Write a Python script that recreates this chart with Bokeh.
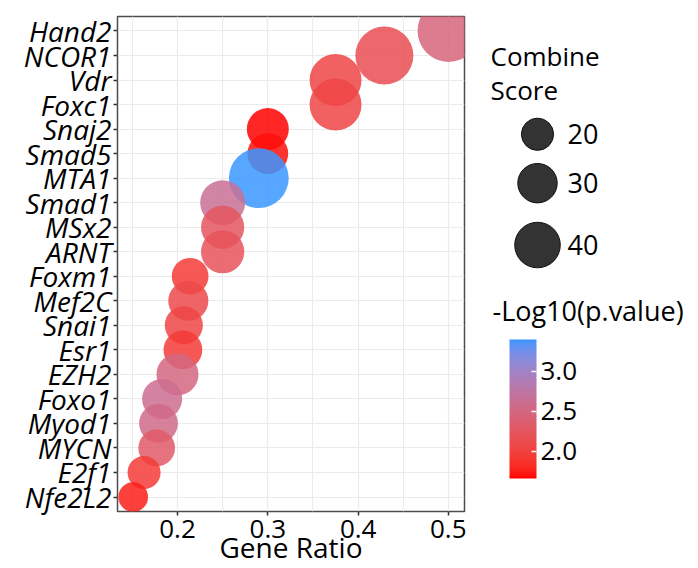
import numpy as np
from bokeh.plotting import figure
from bokeh.models import (ColumnDataSource, FactorRange, Range1d, LinearColorMapper,
                          ColorBar, FixedTicker, PrintfTickFormatter)
from bokeh.layouts import row
from bokeh.core.properties import value
from bokeh.embed import file_html
from bokeh.resources import INLINE

# ---------------- data (top row of the chart first) ----------------
genes = ["Hand2", "NCOR1", "Vdr", "Foxc1", "Snaj2", "Smad5", "MTA1", "Smad1", "MSx2", "ARNT",
         "Foxm1", "Mef2C", "Snai1", "Esr1", "EZH2", "Foxo1", "Myod1", "MYCN", "E2f1", "Nfe2L2"]
gene_ratio = [0.500, 0.429, 0.375, 0.375, 0.300, 0.300, 0.290, 0.250, 0.250, 0.250,
              0.214, 0.212, 0.207, 0.206, 0.200, 0.183, 0.179, 0.177, 0.163, 0.151]
combine_score = [74, 65, 52, 52, 34, 32, 69, 39, 36, 36,
                 26, 31, 28, 29, 34, 31, 29, 26, 21, 17]
neg_log10_p = [2.45, 2.15, 2.05, 2.05, 1.66, 1.70, 3.40, 2.65, 2.25, 2.20,
               1.95, 2.10, 2.05, 1.95, 2.50, 2.60, 2.55, 2.30, 1.95, 1.75]
size_breaks = [20, 30, 40]
color_ticks = [2.0, 2.5, 3.0]
x_ticks = [0.2, 0.3, 0.4, 0.5]
x_minor = [0.15, 0.25, 0.35, 0.45]

FONT = "Open Sans"
LOW_COLOR = "#FF0000"
HIGH_COLOR = "#3A96FF"
SIZE_K = 7.2  # diameter (px) per sqrt(score): area proportional to score


# ---------------- colour ramp in CIELAB (like ggplot gradient) ----------------
def _hex_to_rgb(h):
    h = h.lstrip("#")
    return np.array([int(h[i:i + 2], 16) for i in (0, 2, 4)], dtype=float) / 255.0


def _rgb_to_lab(rgb):
    lin = np.where(rgb <= 0.04045, rgb / 12.92, ((rgb + 0.055) / 1.055) ** 2.4)
    m = np.array([[0.4124564, 0.3575761, 0.1804375],
                  [0.2126729, 0.7151522, 0.0721750],
                  [0.0193339, 0.1191920, 0.9503041]])
    xyz = m @ lin / np.array([0.95047, 1.0, 1.08883])
    f = np.where(xyz > 216 / 24389, np.cbrt(xyz), (24389 / 27 * xyz + 16) / 116)
    return np.array([116 * f[1] - 16, 500 * (f[0] - f[1]), 200 * (f[1] - f[2])])


def _lab_to_hex(lab):
    fy = (lab[0] + 16) / 116
    fx = fy + lab[1] / 500
    fz = fy - lab[2] / 200
    f = np.array([fx, fy, fz])
    xyz = np.where(f ** 3 > 216 / 24389, f ** 3, (116 * f - 16) / (24389 / 27))
    xyz = xyz * np.array([0.95047, 1.0, 1.08883])
    mi = np.array([[3.2404542, -1.5371385, -0.4985314],
                   [-0.9692660, 1.8760108, 0.0415560],
                   [0.0556434, -0.2040259, 1.0572252]])
    lin = np.clip(mi @ xyz, 0, 1)
    rgb = np.where(lin <= 0.0031308, 12.92 * lin, 1.055 * lin ** (1 / 2.4) - 0.055)
    r, g, b = (np.clip(rgb, 0, 1) * 255).round().astype(int)
    return "#%02x%02x%02x" % (r, g, b)


lab_lo, lab_hi = _rgb_to_lab(_hex_to_rgb(LOW_COLOR)), _rgb_to_lab(_hex_to_rgb(HIGH_COLOR))
palette = [_lab_to_hex(lab_lo + t * (lab_hi - lab_lo)) for t in np.linspace(0, 1, 256)]

mapper = LinearColorMapper(palette=palette, low=min(neg_log10_p), high=max(neg_log10_p))

src = ColumnDataSource(dict(
    gene=genes, ratio=gene_ratio, score=combine_score, nlp=neg_log10_p,
    size=[SIZE_K * np.sqrt(s) for s in combine_score],
))

FRAME_TOP, FRAME_BOTTOM = 16, 512

# ---------------- main panel ----------------
x_lo, x_hi = 0.1336, 0.5177
p = figure(width=466, height=568,
           x_range=Range1d(x_lo, x_hi),
           y_range=FactorRange(factors=list(reversed(genes)), range_padding=0.009,
                               range_padding_units="percent"),
           min_border_left=117, min_border_right=2, min_border_top=FRAME_TOP,
           min_border_bottom=568 - FRAME_BOTTOM,
           output_backend="svg", toolbar_location=None)

p.scatter("ratio", "gene", size="size", source=src,
          fill_color={"field": "nlp", "transform": mapper}, fill_alpha=0.85,
          line_color=None)

p.background_fill_color = "white"
p.border_fill_color = "white"
p.outline_line_color = "#4D4D4D"
p.outline_line_width = 1.5

p.xaxis.ticker = FixedTicker(ticks=x_ticks, minor_ticks=x_minor)
p.xaxis.axis_label = "Gene Ratio"
p.xaxis.axis_label_text_font = FONT
p.xaxis.axis_label_text_font_size = "28px"
p.xaxis.axis_label_text_font_style = "normal"
p.xaxis.axis_label_text_color = "black"
p.xaxis.axis_label_standoff = -13
p.xaxis.major_label_text_font = FONT
p.xaxis.major_label_text_font_size = "26px"
p.xaxis.major_label_text_color = "black"
p.xaxis.major_label_standoff = 4
p.xaxis.minor_tick_line_color = None

p.yaxis.major_label_text_font = FONT
p.yaxis.major_label_text_font_size = "28px"
p.yaxis.major_label_text_font_style = "italic"
p.yaxis.major_label_text_color = "black"
p.yaxis.major_label_standoff = 2

for ax in (p.xaxis, p.yaxis):
    ax.axis_line_color = None
    ax.major_tick_line_color = "#333333"
    ax.major_tick_line_width = 1.5
    ax.major_tick_out = 4
    ax.major_tick_in = 0

p.xgrid.grid_line_color = "#EBEBEB"
p.xgrid.grid_line_width = 1.2
p.xgrid.minor_grid_line_color = "#EBEBEB"
p.xgrid.minor_grid_line_width = 1.0
p.ygrid.grid_line_color = "#EBEBEB"
p.ygrid.grid_line_width = 1.2

# ---------------- legend panel (its frame is aligned with the main frame) ----------------
lg = figure(width=232, height=568, x_range=Range1d(0, 232),
            y_range=Range1d(FRAME_BOTTOM, FRAME_TOP),
            min_border=0, output_backend="svg", toolbar_location=None)
lg.axis.visible = False
lg.grid.visible = False
lg.outline_line_color = None

lg.text(x=[24, 24], y=[56, 90], text=["Combine", "Score"], text_font=value(FONT),
        text_font_size="26px", text_color="black", text_baseline="middle")

leg_y = [134, 183, 245]
lg.scatter(x=[71] * len(size_breaks), y=leg_y, size=[SIZE_K * np.sqrt(s) for s in size_breaks],
           fill_color="#333333", line_color="#111111", line_width=1)
lg.text(x=[101] * len(size_breaks), y=leg_y, text=[str(s) for s in size_breaks],
        text_font=value(FONT), text_font_size="27px", text_color="black",
        text_baseline="middle")

lg.text(x=[26], y=[311], text=["-Log10(p.value)"], text_font=value(FONT),
        text_font_size="27px", text_color="black", text_baseline="middle")

cb = ColorBar(color_mapper=mapper, ticker=FixedTicker(ticks=color_ticks),
              formatter=PrintfTickFormatter(format="%.1f"),
              location=(43, 33), width=27, height=139, padding=0, margin=0,
              label_standoff=4, orientation="vertical",
              major_label_text_font=FONT, major_label_text_font_size="26px",
              major_label_text_color="black",
              major_tick_line_color="white", major_tick_line_width=1.5,
              major_tick_in=5, major_tick_out=0, minor_tick_line_color=None,
              bar_line_color=None, background_fill_color=None, border_line_color=None)
lg.add_layout(cb)

layout = row(p, lg)
open("out.html", "w").write(file_html(layout, INLINE))
